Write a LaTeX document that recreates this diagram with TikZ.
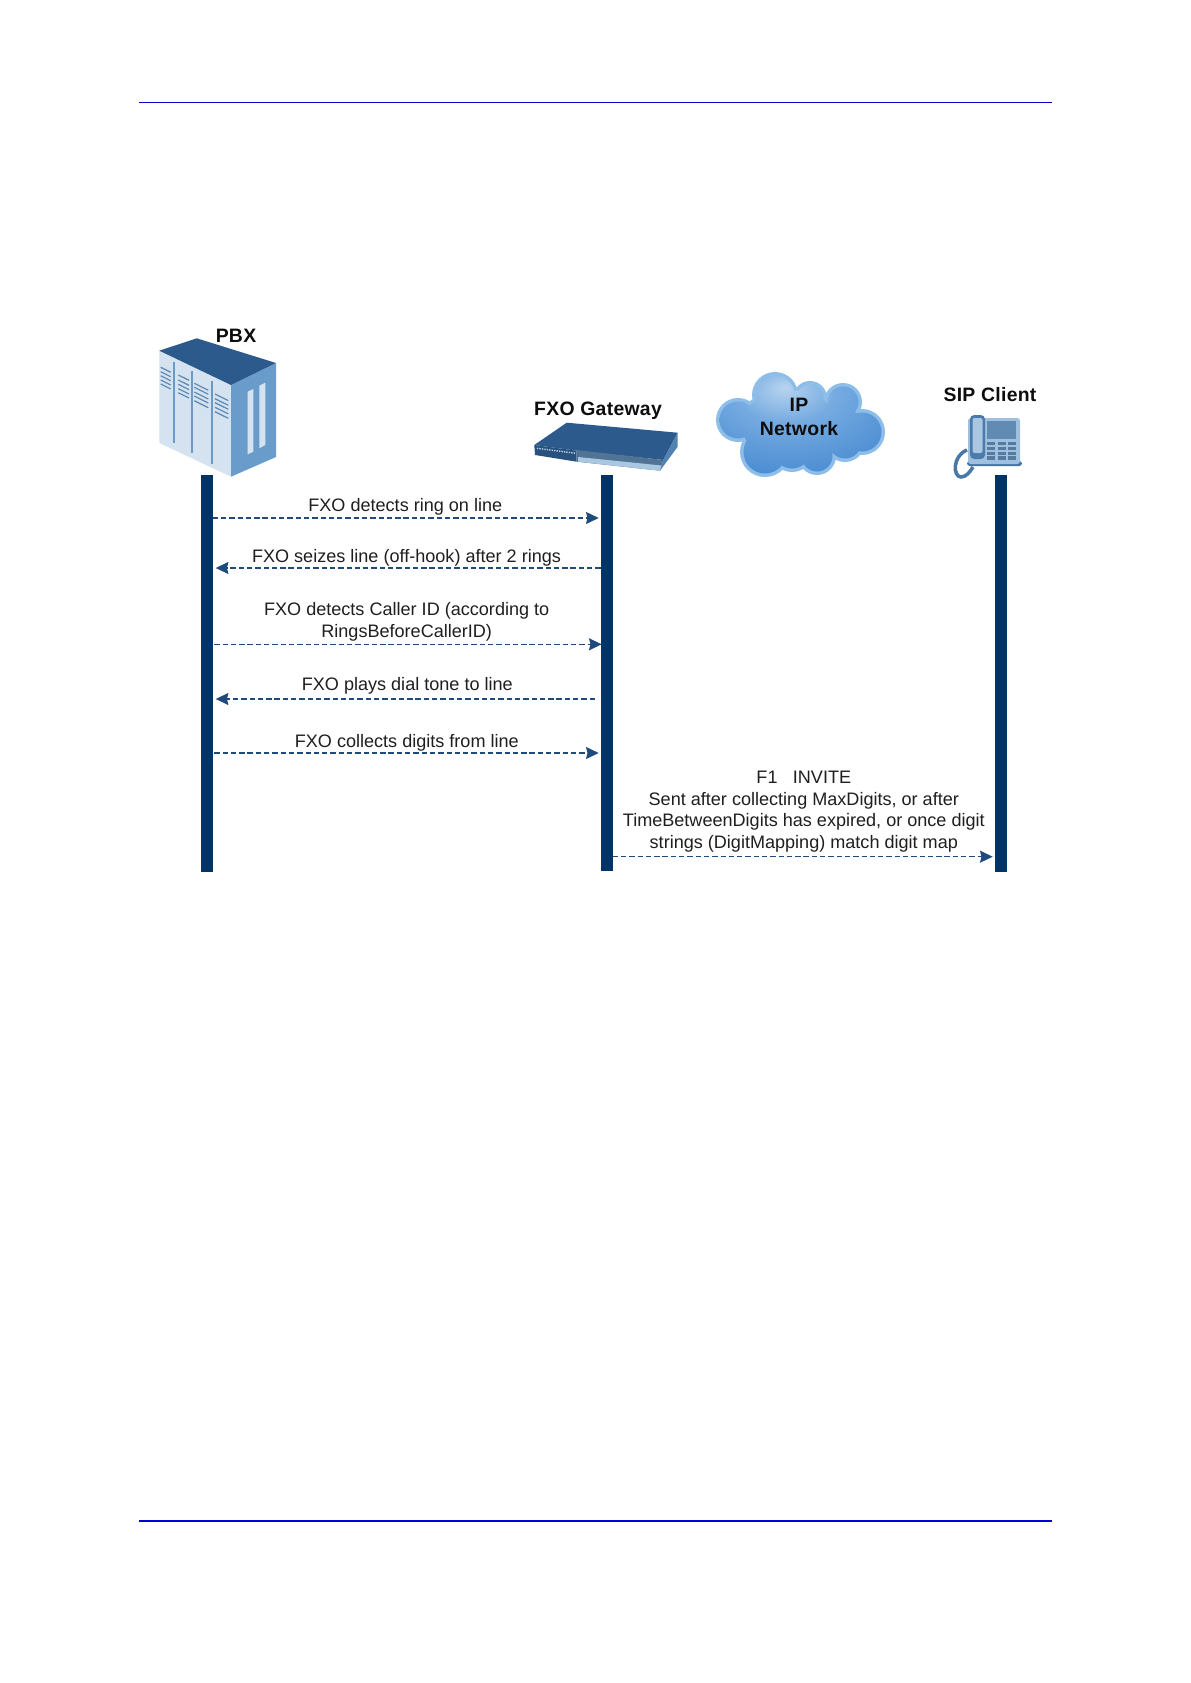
\documentclass[tikz,border=0pt]{standalone}
\usepackage{fontspec}
\setmainfont{Liberation Sans}
\usepackage{xcolor}
\usepackage{tikz}
\usetikzlibrary{arrows.meta}
\definecolor{lifeblue}{HTML}{003366}
\definecolor{msgblue}{HTML}{1F4A7C}
\definecolor{topblue}{HTML}{2C5A8C}
\definecolor{sideblue}{HTML}{6A9CCB}
\definecolor{paleblue}{HTML}{D5E3F0}
\definecolor{stripeblue}{HTML}{6C9AC6}
\definecolor{cloudrim}{HTML}{8DBDE9}
\pgfdeclareradialshading{cloudfill}{\pgfpoint{-5bp}{19bp}}{%
  rgb(0bp)=(0.72,0.83,0.94);
  rgb(15bp)=(0.46,0.67,0.88);
  rgb(40bp)=(0.28,0.54,0.82);
  rgb(60bp)=(0.10,0.40,0.72);
  rgb(100bp)=(0.10,0.40,0.72)}
\tikzset{>=stealth,
  lifeline/.style={line width=17pt,lifeblue},
  message/.style={line width=1.7pt,msgblue,dash pattern=on 7.6pt off 4.2pt,
    -{Stealth[length=18pt,width=17pt,inset=2pt,sep=0pt]}},
  msglabel/.style={anchor=south,inner sep=0pt,align=center,text=black!88,
    font=\fontsize{25.7pt}{30.9pt}\selectfont},
  title/.style={anchor=base,inner sep=0pt,align=center,text=black!95,
    font=\bfseries\fontsize{27.6pt}{34pt}\selectfont\addfontfeature{LetterSpace=1.5}},
  vent/.style={line width=1.8pt,stripeblue!90!black},
}
\newcommand{\cloudlobes}[1]{(738,420) circle[radius=22+#1]
  (775,395) circle[radius=23+#1] (810,398) circle[radius=17+#1]
  (843,402) circle[radius=19+#1] (862,432) circle[radius=23+#1]
  (817,456) circle[radius=19+#1] (765,452) circle[radius=25+#1]
  (800,425) circle[radius=38+#1] (768,425) circle[radius=30+#1]
  (838,428) circle[radius=27+#1] (792,450) circle[radius=22+#1]
  (845,442) circle[radius=20+#1]}

\begin{document}
\begin{tikzpicture}[x=0.05cm,y=-0.05cm]
    \useasboundingbox[fill=white] (0,0) rectangle (1191,1683);

    % page rules
    \coordinate (topL) at (139,102.3);
    \coordinate (topR) at (1051.7,102.3);
    \coordinate (botL) at (139,1520.7);
    \coordinate (botR) at (1051.7,1520.7);
    \draw[line width=1.7pt,blue!75!black] (topL)--(topR);
    \draw[line width=2.6pt,blue!85!black] (botL)--(botR);

    % PBX cabinet
    \fill[paleblue] (159.3,350.7)--(231,385)--(231,476.7)--(159.3,443)--cycle;
    \fill[sideblue] (231,385)--(276,363)--(276,457)--(231,476.7)--cycle;
    \fill[topblue] (159.3,350.7)--(196.7,338.3)--(276,363)--(231,385)--cycle;
    \fill[paleblue] (247.7,391.7)--(253.3,389)--(253.3,451.7)--(247.7,454.3)--cycle;
    \fill[paleblue] (259.3,385.7)--(265.3,382.7)--(265.3,445)--(259.3,448.3)--cycle;
    \draw[line width=3.4pt,stripeblue] (174,361.7)--(174,443);
    \draw[line width=3.4pt,stripeblue] (191.7,370.7)--(191.7,453);
    \draw[line width=3.4pt,stripeblue] (211.7,380.7)--(211.7,464);
    \foreach \y in {367.3,371.7,375.7,380,384}
      \draw[vent] (160.7,\y)--(170.7,\y+5);
    \foreach \y in {375,380,384.3,388.7,392.7}
      \draw[vent] (178.3,\y)--(189,\y+5.3);
    \foreach \y in {383.3,387.3,392,396,400.7}
      \draw[vent] (194.3,\y)--(208.3,\y+7);
    \foreach \y in {394,398.7,402.7,407.3,411.7}
      \draw[vent] (215,\y)--(228.3,\y+6.6);

    % gateway box
    \fill[topblue] (534.3,445)--(566.7,422.7)--(677.7,432.7)--(663.3,460)--(576.7,450.7)--cycle;
    \fill[topblue!90!black] (534.3,445)--(576.7,450.7)--(576.7,461.7)--(535,455)--cycle;
    \fill[stripeblue!75!black] (576.7,450)--(663.3,460)--(660,470.7)--(576.7,461.7)--cycle;
    \fill[paleblue!60!sideblue] (578,457)--(661.5,465.5)--(660,470.7)--(578,461.7)--cycle;
    \fill[sideblue!60!topblue] (663.3,460)--(677.7,432.7)--(677.7,446.7)--(660,470.7)--cycle;
    \draw[line width=2pt,dash pattern=on 2pt off 1.5pt,paleblue!70!sideblue] (537,448.3)--(576,453.3);

    % cloud
    \fill[cloudrim] \cloudlobes{0};
    \path[shading=cloudfill] \cloudlobes{-3.5};

    % phone
    \draw[cloudrim!30!topblue,line width=5pt] (967,450) .. controls (952,456) and (953,477) .. (961,477) .. controls (966,477) and (970,472) .. (973,467);
    \fill[rounded corners=4pt,topblue!60!sideblue] (967,461)--(1022,461)--(1022,466)--(967,466)--cycle;
    \fill[rounded corners=4pt,sideblue!50!paleblue] (968,418) rectangle (1020,464);
    \fill[stripeblue!90!black] (987,421) rectangle (1016,439);
    \foreach \x in {0,1,2}
      \foreach \y in {0,1,2,3}
        \fill[stripeblue!80!black] (987+\x*10.5,442+\y*4.8) rectangle ++(8,3.3);
    \fill[rounded corners=6pt,topblue!50!sideblue] (970,415) rectangle (985,459);
    \fill[rounded corners=3pt,sideblue!40!paleblue] (972.5,418) rectangle (982.5,453);

    % lifelines
    \coordinate (pbxTop) at (206.7,475);
    \coordinate (pbxEnd) at (206.7,872);
    \coordinate (gwTop) at (606.7,475);
    \coordinate (gwEnd) at (606.7,870.7);
    \coordinate (sipTop) at (1000.7,475);
    \coordinate (sipEnd) at (1000.7,872);
    \draw[lifeline] (pbxTop)--(pbxEnd);
    \draw[lifeline] (gwTop)--(gwEnd);
    \draw[lifeline] (sipTop)--(sipEnd);

    % messages
    \coordinate (ringA) at (212.7,518);
    \coordinate (ringB) at (598.7,518);
    \coordinate (seizeA) at (600.7,568);
    \coordinate (seizeB) at (215.7,568);
    \coordinate (callerA) at (214.3,644.3);
    \coordinate (callerB) at (601.7,644.3);
    \coordinate (toneA) at (595,699);
    \coordinate (toneB) at (215.7,699);
    \coordinate (digitsA) at (214.3,753);
    \coordinate (digitsB) at (598.7,753);
    \coordinate (inviteA) at (612.7,856.7);
    \coordinate (inviteB) at (992.7,856.7);
    \draw[message] (ringA)--(ringB);
    \draw[message] (seizeA)--(seizeB);
    \draw[message] (callerA)--(callerB);
    \draw[message] (toneA)--(toneB);
    \draw[message] (digitsA)--(digitsB);
    \draw[message] (inviteA)--(inviteB);

    \node[msglabel] (ringText) at (405.3,514.9) {FXO detects ring on line};
    \node[msglabel] (seizeText) at (406.5,566.2) {FXO seizes line (off-hook) after 2 rings};
    \node[msglabel] (callerText) at (406.7,641.6) {FXO detects Caller ID (according to\\RingsBeforeCallerID)};
    \node[msglabel] (toneText) at (407.3,693.9) {FXO plays dial tone to line};
    \node[msglabel] (digitsText) at (406.8,751.6) {FXO collects digits from line};
    \node[msglabel] (inviteText) at (803.8,852.4) {F1\hspace{0.85em}INVITE\\Sent after collecting MaxDigits, or after\\TimeBetweenDigits has expired, or once digit\\strings (DigitMapping) match digit map};

    \node[title] (pbxName) at (236,342) {PBX};
    \node[title] (gwName) at (598,415) {FXO Gateway};
    \node[title,anchor=south] (ipName) at (799,435.7) {IP\\Network};
    \node[title] (sipName) at (990,401) {SIP Client};
\end{tikzpicture}
\end{document}
